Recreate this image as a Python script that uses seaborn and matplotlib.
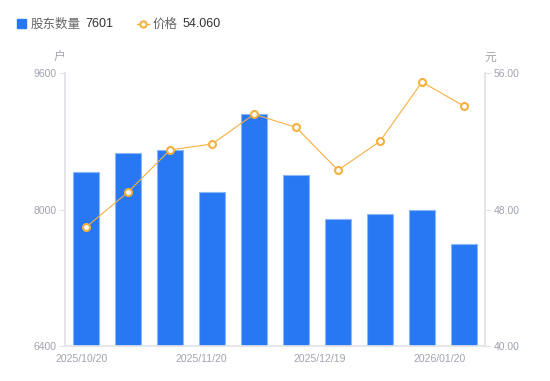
import matplotlib
matplotlib.use("Agg")
import matplotlib.pyplot as plt
import seaborn as sns
import pandas as pd
from matplotlib.lines import Line2D

dates = ["2025/10/20", "2025/10/31", "2025/11/10", "2025/11/20", "2025/11/28",
         "2025/12/10", "2025/12/19", "2025/12/31", "2026/01/10", "2026/01/20"]
holders = [8443, 8658, 8694, 8201, 9119, 8404, 7892, 7947, 7990, 7601]
price = [46.96, 49.02, 51.49, 51.84, 53.58, 52.82, 50.30, 52.00, 55.47, 54.06]
tick_labels = ["2025/10/20", "2025/11/20", "2025/12/19", "2026/01/20"]
left_ticks = [6400, 8000, 9600]
right_ticks = [40, 48, 56]

df = pd.DataFrame({"date": dates, "holders": holders, "price": price})

sns.set_theme(style="white")
plt.rcParams["font.family"] = ["Liberation Sans", "Noto Sans CJK SC", "DejaVu Sans"]

BLUE = "#2878F4"
ORANGE = "#F6B03E"
GRAY = "#A0A3B1"
AXIS = "#E0E3E8"

fig = plt.figure(figsize=(5.5, 3.81), dpi=100)
ax = fig.add_axes([65/550, 35/381, 420/550, 273/381])

sns.barplot(data=df, x="date", y="holders", ax=ax, color=BLUE, width=0.6,
            saturation=1, edgecolor="#8DB6F7", linewidth=0.8)
ax.set_ylim(6400, 9600)
ax.set_xlim(-0.5, len(dates) - 0.5)
ax.set_yticks(left_ticks)
ax.set_yticklabels([str(v) for v in left_ticks])
ax.set_xlabel("")
ax.set_ylabel("")

ax2 = ax.twinx()
sns.lineplot(x=list(range(len(dates))), y=price, ax=ax2, color=ORANGE, linewidth=0.8,
             marker="o", markersize=5, markerfacecolor="white",
             markeredgecolor=ORANGE, markeredgewidth=1.5)
ax2.set_ylim(40, 56)
ax2.set_yticks(right_ticks)
ax2.set_yticklabels([f"{v:.2f}" for v in right_ticks])
ax2.set_xlim(-0.5, len(dates) - 0.5)

xt = [-0.1, 2.74, 5.57, 8.43]
ax.set_xticks(xt)
ax.set_xticklabels(tick_labels)

for a in (ax, ax2):
    for s in a.spines.values():
        s.set_visible(False)
    a.grid(False)

ax.spines["left"].set_visible(True)
ax.spines["left"].set_color(AXIS)
ax.spines["bottom"].set_visible(True)
ax.spines["bottom"].set_color(AXIS)
ax2.spines["right"].set_visible(True)
ax2.spines["right"].set_color(AXIS)

ax.tick_params(axis="y", colors=AXIS, labelcolor=GRAY, labelsize=7.5, length=4, width=0.8, pad=2, left=True)
ax.tick_params(axis="x", labelcolor=GRAY, labelsize=7.5, length=0, pad=6)
ax2.tick_params(axis="y", colors=AXIS, labelcolor=GRAY, labelsize=7.5, length=4, width=0.8, pad=2, right=True)

fig.text(59/550, 1 - 57/381, "户", fontsize=8.5, color=GRAY, ha="center", va="center",
         family=["Noto Sans CJK SC", "DejaVu Sans"])
fig.text(490/550, 1 - 57/381, "元", fontsize=8.5, color=GRAY, ha="center", va="center",
         family=["Noto Sans CJK SC", "DejaVu Sans"])

# legend
ly = 1 - 24/381
fig.patches.append(plt.Rectangle((17/550, 1 - 28/381), 9/550, 9/381, transform=fig.transFigure,
                                 color=BLUE, figure=fig))
fig.text(31/550, ly, "股东数量", fontsize=9, color="#666666", va="center",
         family=["Noto Sans CJK SC", "DejaVu Sans"])
fig.text(85/550, ly, "7601", fontsize=9, color="#333333", va="center")
fig.lines.append(Line2D([137/550, 149/550], [ly, ly], transform=fig.transFigure, color=ORANGE,
                        linewidth=1, figure=fig))
fig.lines.append(Line2D([143/550], [ly], transform=fig.transFigure, color=ORANGE, linestyle="none",
                        marker="o", markersize=4.5, markerfacecolor="white", markeredgewidth=1.5,
                        figure=fig))
fig.text(153/550, ly, "价格", fontsize=9, color="#666666", va="center",
         family=["Noto Sans CJK SC", "DejaVu Sans"])
fig.text(183/550, ly, "54.060", fontsize=9, color="#333333", va="center")

fig.savefig("out.png", dpi=100)
